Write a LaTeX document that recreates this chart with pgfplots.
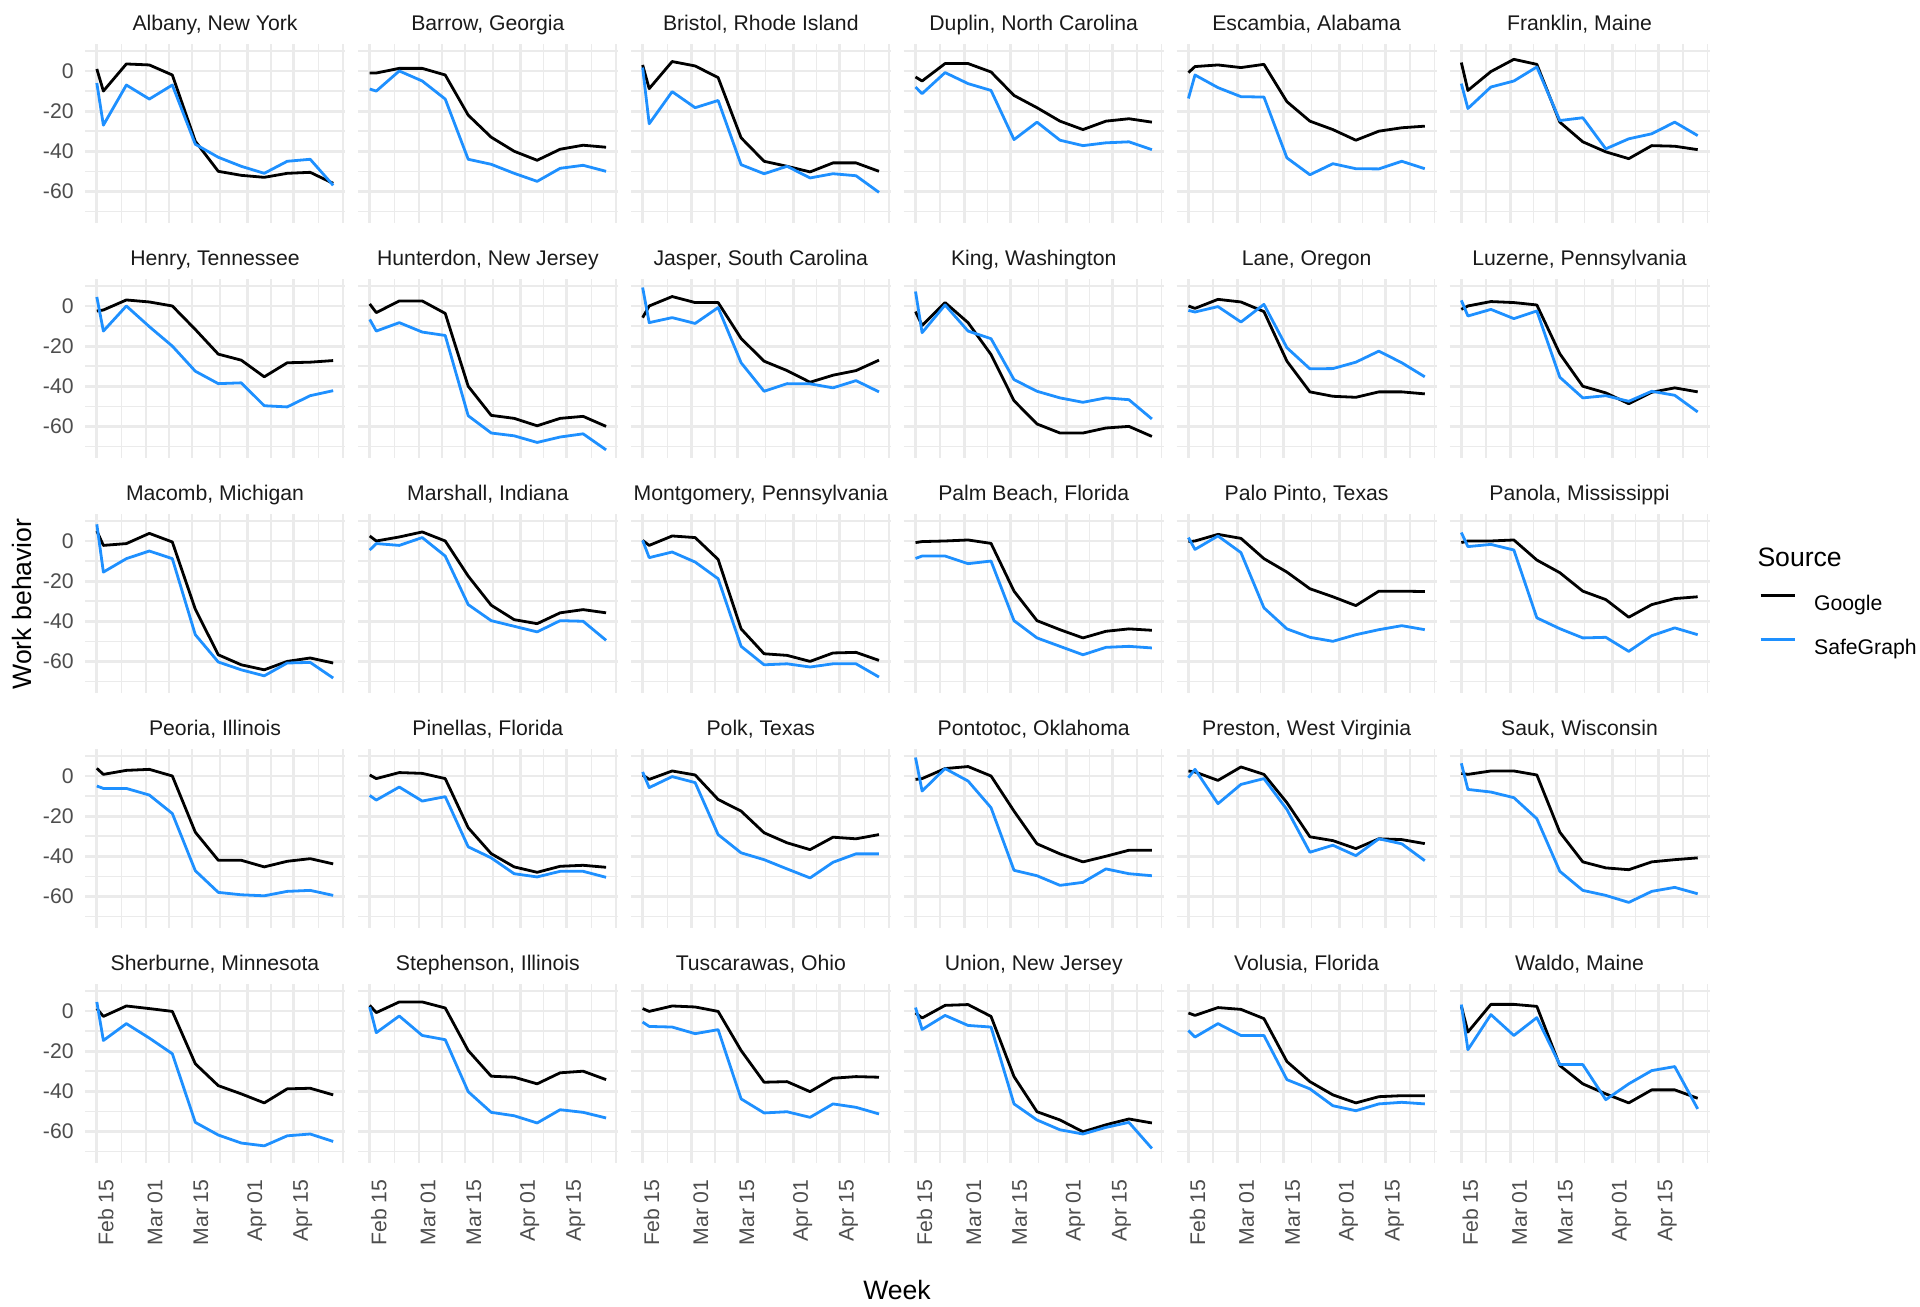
\documentclass[border=0pt]{standalone}
\usepackage{fontspec}
\setmainfont{Liberation Sans}
\usepackage{pgfplots}
\pgfplotsset{compat=1.18}

\definecolor{sgblue}{HTML}{1E90FF}
\definecolor{gridgrey}{HTML}{EBEBEB}
\definecolor{ticktext}{HTML}{4D4D4D}
\definecolor{striptext}{HTML}{1A1A1A}

\newcommand{\smallfont}{\fontsize{10.6}{12}\selectfont}
\newcommand{\bigfont}{\fontsize{13.3}{15}\selectfont}

% x = days after Feb 15 (2020)
\pgfplotsset{
  legend image code/.code={\draw[#1] (0pt,3.6pt) -- (17pt,3.6pt);},
  facet/.style={
    scale only axis, width=130pt, height=89.3pt,
    anchor=north west,
    xmin=-3.6, xmax=75.6, ymin=-75.75, ymax=13.25,
    axis line style={draw=none},
    major tick length=0pt, minor tick length=0pt,
    xtick={0,15,29,46,60},
    minor xtick={7.5,22,37.5,53,67.5,75},
    ytick={-60,-40,-20,0},
    minor ytick={-70,-50,-30,-10,10},
    grid=both,
    major grid style={draw=gridgrey, line width=1.4pt},
    minor grid style={draw=gridgrey, line width=0.7pt},
    xticklabels={}, yticklabels={},
    title style={anchor=center, yshift=3.8pt, font=\smallfont, text=striptext,
      text height=7.8pt, text depth=2.2pt},
    yticklabel style={font=\smallfont, text=ticktext, inner sep=0pt},
    yticklabel shift=5.5pt,
    xticklabel style={font=\smallfont, text=ticktext},
  },
  leftcol/.style={yticklabels={-60,-40,-20,0}},
  bottomrow/.style={
    xticklabels={Feb 15,Mar 01,Mar 15,Apr 01,Apr 15},
    xticklabel style={xshift=4.5pt, rotate=90, anchor=east, inner sep=0pt},
    xticklabel shift=8pt,
  },
  gline/.style={black, line width=1.4pt, line join=round, mark=none},
  sline/.style={sgblue, line width=1.4pt, line join=round, mark=none},
}

% #1 column, #2 row, #3 title, #4 Google, #5 SafeGraph, #6 extra options
\newcommand{\facet}[6]{%
  \pgfmathsetmacro{\fx}{42.5+136.45*#1}%
  \pgfmathsetmacro{\fy}{630.8-117.5*#2}%
  \begin{axis}[facet, at={(\fx pt,\fy pt)}, title={#3}, #6]
    \addplot[gline] coordinates {#4};
    \addplot[sline] coordinates {#5};
  \end{axis}}

\begin{document}
\begin{tikzpicture}
\useasboundingbox (0,0) rectangle (960pt,653pt);

% row 1
\facet{0}{0}{Albany, New York}
  {(0,1) (2,-10) (9,3.5) (16,3) (23,-2) (30,-35) (37,-50) (44,-52) (51,-53) (58,-51) (65,-50.5) (72,-56)}
  {(0,-6) (2,-27) (9,-7) (16,-14) (23,-7) (30,-36.5) (37,-43) (44,-47.5) (51,-51) (58,-45) (65,-44) (72,-57)}
  {leftcol}
\facet{1}{0}{Barrow, Georgia}
  {(0,-1) (2,-1) (9,1.3) (16,1.3) (23,-2) (30,-22) (37,-33) (44,-40) (51,-44.5) (58,-39) (65,-37) (72,-38)}
  {(0,-9) (2,-10) (9,0) (16,-5) (23,-14) (30,-44) (37,-46.5) (44,-51) (51,-55) (58,-48.5) (65,-47) (72,-50)}
  {}
\facet{2}{0}{Bristol, Rhode Island}
  {(0,3) (2,-8.8) (9,4.7) (16,2.5) (23,-3.3) (30,-33.3) (37,-45) (44,-47.5) (51,-50.3) (58,-45.8) (65,-45.8) (72,-50)}
  {(0,1.7) (2,-26.3) (9,-10.3) (16,-18.3) (23,-14.7) (30,-46.7) (37,-51.2) (44,-47.5) (51,-53.3) (58,-51.2) (65,-52.2) (72,-60.5)}
  {}
\facet{3}{0}{Duplin, North Carolina}
  {(0,-3) (2,-5) (9,3.7) (16,3.7) (23,-0.5) (30,-12.2) (37,-18.3) (44,-25) (51,-29.2) (58,-25) (65,-23.8) (72,-25.5)}
  {(0,-8) (2,-11.3) (9,-0.8) (16,-6.3) (23,-9.7) (30,-34.2) (37,-25.5) (44,-34.5) (51,-37.2) (58,-35.8) (65,-35.3) (72,-39.2)}
  {}
\facet{4}{0}{Escambia, Alabama}
  {(0,-0.8) (2,2.2) (9,3) (16,1.7) (23,3.3) (30,-15.3) (37,-25) (44,-29.2) (51,-34.5) (58,-30) (65,-28.3) (72,-27.5)}
  {(0,-13.7) (2,-2) (9,-8.3) (16,-12.8) (23,-13) (30,-43.3) (37,-51.7) (44,-46.2) (51,-48.7) (58,-48.8) (65,-45) (72,-48.7)}
  {}
\facet{5}{0}{Franklin, Maine}
  {(0,4.2) (2,-9.7) (9,-0.3) (16,5.8) (23,3.3) (30,-25.5) (37,-35.3) (44,-40.3) (51,-43.7) (58,-37.2) (65,-37.5) (72,-39.2)}
  {(0,-6.3) (2,-18.7) (9,-8) (16,-5) (23,2) (30,-24.7) (37,-23.3) (44,-38.8) (51,-33.8) (58,-31.3) (65,-25.5) (72,-32.2)}
  {}

% row 2
\facet{0}{1}{Henry, Tennessee}
  {(0,-2.5) (2,-2) (9,3) (16,2) (23,0) (30,-11.7) (37,-24) (44,-27) (51,-35.3) (58,-28.3) (65,-28) (72,-27.2)}
  {(0,4.5) (2,-12.5) (9,0) (16,-10.3) (23,-20) (30,-32.5) (37,-38.7) (44,-38.3) (51,-49.7) (58,-50.3) (65,-44.7) (72,-42.2)}
  {leftcol}
\facet{1}{1}{Hunterdon, New Jersey}
  {(0,1) (2,-3.3) (9,2.5) (16,2.5) (23,-3.7) (30,-40) (37,-54.5) (44,-56) (51,-59.7) (58,-56) (65,-55) (72,-60)}
  {(0,-6.7) (2,-12.5) (9,-8.3) (16,-13) (23,-14.7) (30,-54.7) (37,-63.3) (44,-64.7) (51,-68) (58,-65.3) (65,-63.7) (72,-71.7)}
  {}
\facet{2}{1}{Jasper, South Carolina}
  {(0,-5.8) (2,0) (9,4.7) (16,1.7) (23,1.7) (30,-16.2) (37,-27.5) (44,-32.2) (51,-38) (58,-34.5) (65,-32.2) (72,-27)}
  {(0,9.2) (2,-8.3) (9,-5.8) (16,-8.7) (23,-0.8) (30,-28.3) (37,-42.5) (44,-38.7) (51,-38.8) (58,-40.8) (65,-37.2) (72,-42.8)}
  {}
\facet{3}{1}{King, Washington}
  {(0,-2.8) (2,-9.7) (9,1.7) (16,-8.3) (23,-24.2) (30,-47.2) (37,-58.8) (44,-63.3) (51,-63.3) (58,-60.8) (65,-60) (72,-65)}
  {(0,7.2) (2,-13.3) (9,0.5) (16,-12.5) (23,-16.3) (30,-36.7) (37,-42.5) (44,-45.8) (51,-48) (58,-45.8) (65,-46.7) (72,-56.3)}
  {}
\facet{4}{1}{Lane, Oregon}
  {(0,0) (2,-1.2) (9,3.3) (16,2) (23,-2.8) (30,-27.5) (37,-42.8) (44,-45) (51,-45.5) (58,-42.8) (65,-42.8) (72,-43.8)}
  {(0,-2.2) (2,-3) (9,-0.3) (16,-8) (23,0.8) (30,-20.8) (37,-31.3) (44,-31.2) (51,-28) (58,-22.5) (65,-28.3) (72,-35.3)}
  {}
\facet{5}{1}{Luzerne, Pennsylvania}
  {(0,-1.7) (2,0) (9,2.2) (16,1.7) (23,0.5) (30,-23.8) (37,-40) (44,-43.3) (51,-48.7) (58,-43) (65,-40.8) (72,-42.8)}
  {(0,2.8) (2,-5) (9,-1.7) (16,-6.3) (23,-2.5) (30,-35.5) (37,-45.8) (44,-44.7) (51,-47.5) (58,-42.5) (65,-44.5) (72,-52.8)}
  {}

% row 3
\facet{0}{2}{Macomb, Michigan}
  {(0,5) (2,-2.2) (9,-1.3) (16,3.8) (23,-0.5) (30,-34) (37,-56.7) (44,-61.7) (51,-64.2) (58,-60) (65,-58.3) (72,-60.8)}
  {(0,8.3) (2,-15.5) (9,-8.8) (16,-5) (23,-8.8) (30,-46.7) (37,-60.3) (44,-64.2) (51,-67.2) (58,-60.8) (65,-60.5) (72,-68.3)}
  {leftcol}
\facet{1}{2}{Marshall, Indiana}
  {(0,2.5) (2,0) (9,2) (16,4.5) (23,0) (30,-17.5) (37,-32) (44,-39.2) (51,-41.2) (58,-35.8) (65,-34.2) (72,-35.8)}
  {(0,-4.5) (2,-1.3) (9,-2.2) (16,1.7) (23,-7.5) (30,-31.7) (37,-39.7) (44,-42.5) (51,-45.3) (58,-39.7) (65,-40) (72,-49.5)}
  {}
\facet{2}{2}{Montgomery, Pennsylvania}
  {(0,0.3) (2,-2.2) (9,2.5) (16,1.7) (23,-9.2) (30,-43.8) (37,-56.2) (44,-57) (51,-60) (58,-55.8) (65,-55.5) (72,-59.5)}
  {(0,0.3) (2,-8.3) (9,-5.5) (16,-10.5) (23,-18.8) (30,-52.5) (37,-61.7) (44,-61.2) (51,-62.8) (58,-61.2) (65,-61.2) (72,-67.8)}
  {}
\facet{3}{2}{Palm Beach, Florida}
  {(0,-0.8) (2,-0.3) (9,0) (16,0.5) (23,-1.2) (30,-25) (37,-39.7) (44,-44.2) (51,-48.3) (58,-45) (65,-43.8) (72,-44.5)}
  {(0,-8.7) (2,-7.5) (9,-7.5) (16,-11.3) (23,-10) (30,-39.7) (37,-48.3) (44,-52.5) (51,-56.7) (58,-53) (65,-52.5) (72,-53.3)}
  {}
\facet{4}{2}{Palo Pinto, Texas}
  {(0,-0.3) (2,0) (9,3.3) (16,1.3) (23,-8.8) (30,-15.5) (37,-23.8) (44,-27.8) (51,-32.2) (58,-25) (65,-25) (72,-25.2)}
  {(0,1.7) (2,-4.2) (9,2.5) (16,-5.8) (23,-33.3) (30,-43.8) (37,-48) (44,-50) (51,-46.7) (58,-44.2) (65,-42.2) (72,-44.2)}
  {}
\facet{5}{2}{Panola, Mississippi}
  {(0,-0.8) (2,0) (9,0) (16,0.5) (23,-9.5) (30,-15.8) (37,-25) (44,-29.2) (51,-38) (58,-31.7) (65,-28.7) (72,-27.8)}
  {(0,4.2) (2,-2.8) (9,-1.7) (16,-4.5) (23,-38.3) (30,-43.7) (37,-48.3) (44,-48) (51,-55) (58,-47.2) (65,-43.3) (72,-46.7)}
  {legend entries={Google,SafeGraph},
   legend cell align=left,
   legend style={draw=none, fill=none, at={(1.19,0.3835)}, anchor=west,
     inner sep=0pt, font=\smallfont, row sep=13.9pt,
     nodes={inner sep=0pt, text height=7.6pt, text depth=0pt},
     /tikz/every odd column/.append style={column sep=9pt}},
   extra description/.code={\node[anchor=west, font=\bigfont, inner sep=0pt] at (1.183,0.761) {Source};}}

% row 4
\facet{0}{3}{Peoria, Illinois}
  {(0,3.8) (2,0.8) (9,2.8) (16,3.3) (23,0) (30,-28) (37,-42) (44,-42) (51,-45.3) (58,-42.5) (65,-41.2) (72,-43.8)}
  {(0,-5) (2,-6.2) (9,-6.2) (16,-9.5) (23,-18.7) (30,-47.2) (37,-58) (44,-59.2) (51,-59.7) (58,-57.5) (65,-57) (72,-59.5)}
  {leftcol}
\facet{1}{3}{Pinellas, Florida}
  {(0,0.5) (2,-1.3) (9,1.7) (16,1.3) (23,-1.3) (30,-25.8) (37,-38.7) (44,-45.3) (51,-48) (58,-45) (65,-44.5) (72,-45.5)}
  {(0,-9.7) (2,-12) (9,-5.5) (16,-12.5) (23,-10.3) (30,-35.3) (37,-40.8) (44,-48.7) (51,-50.3) (58,-47.5) (65,-47.5) (72,-50.5)}
  {}
\facet{2}{3}{Polk, Texas}
  {(0,0.5) (2,-1.7) (9,2.5) (16,0.5) (23,-11.7) (30,-17.5) (37,-28.3) (44,-33.3) (51,-36.7) (58,-30.5) (65,-31.3) (72,-29.2)}
  {(0,2) (2,-5.8) (9,-0.3) (16,-3.3) (23,-29.2) (30,-38.3) (37,-41.7) (44,-46.3) (51,-50.8) (58,-43) (65,-38.8) (72,-38.8)}
  {}
\facet{3}{3}{Pontotoc, Oklahoma}
  {(0,-1.7) (2,-1.3) (9,3.7) (16,4.7) (23,0) (30,-17.5) (37,-33.8) (44,-38.8) (51,-42.8) (58,-40) (65,-37) (72,-37)}
  {(0,9.2) (2,-7.5) (9,3.7) (16,-2.5) (23,-15.8) (30,-47) (37,-49.7) (44,-54.5) (51,-53) (58,-46.3) (65,-48.7) (72,-49.7)}
  {}
\facet{4}{3}{Preston, West Virginia}
  {(0,2.5) (2,2) (9,-2.2) (16,4.5) (23,0.8) (30,-13.3) (37,-30.3) (44,-32.2) (51,-36.2) (58,-31.3) (65,-31.7) (72,-33.7)}
  {(0,-0.8) (2,3.3) (9,-13.8) (16,-4.2) (23,-1.3) (30,-16.7) (37,-38) (44,-34.5) (51,-39.7) (58,-31.3) (65,-33.8) (72,-42.2)}
  {}
\facet{5}{3}{Sauk, Wisconsin}
  {(0,1.3) (2,0.8) (9,2.5) (16,2.5) (23,0.5) (30,-28) (37,-42.8) (44,-45.8) (51,-46.7) (58,-42.8) (65,-41.7) (72,-40.8)}
  {(0,6.3) (2,-6.7) (9,-8) (16,-10.8) (23,-21.3) (30,-47.5) (37,-57) (44,-59.5) (51,-63) (58,-57.5) (65,-55.5) (72,-58.7)}
  {}

% row 5
\facet{0}{4}{Sherburne, Minnesota}
  {(0,1.2) (2,-2.7) (9,2.5) (16,1.2) (23,-0.2) (30,-26.3) (37,-37.2) (44,-41.3) (51,-45.8) (58,-38.8) (65,-38.5) (72,-41.8)}
  {(0,4.5) (2,-14.7) (9,-6.3) (16,-13.5) (23,-21.3) (30,-55.5) (37,-61.8) (44,-65.8) (51,-67.2) (58,-62.2) (65,-61.3) (72,-65)}
  {leftcol, bottomrow}
\facet{1}{4}{Stephenson, Illinois}
  {(0,2.8) (2,-0.8) (9,4.5) (16,4.5) (23,1.5) (30,-19.7) (37,-32.5) (44,-33) (51,-36.3) (58,-30.8) (65,-30) (72,-34.2)}
  {(0,2) (2,-10.8) (9,-2.5) (16,-12.2) (23,-14.3) (30,-40.2) (37,-50.5) (44,-52.2) (51,-55.8) (58,-49.2) (65,-50.5) (72,-53.3)}
  {bottomrow}
\facet{2}{4}{Tuscarawas, Ohio}
  {(0,1.2) (2,-0.2) (9,2.5) (16,2) (23,-0.2) (30,-19.7) (37,-35.5) (44,-35.2) (51,-40.2) (58,-33.5) (65,-32.7) (72,-33)}
  {(0,-5.5) (2,-7.7) (9,-8) (16,-11.3) (23,-9.3) (30,-43.8) (37,-50.8) (44,-50.2) (51,-53) (58,-46.3) (65,-48) (72,-51.3)}
  {bottomrow}
\facet{3}{4}{Union, New Jersey}
  {(0,-1) (2,-3.5) (9,2.8) (16,3.2) (23,-2.7) (30,-32.7) (37,-50.2) (44,-54.3) (51,-60.2) (58,-56.7) (65,-53.8) (72,-55.8)}
  {(0,1.7) (2,-9.2) (9,-2.2) (16,-7.2) (23,-8) (30,-46.3) (37,-54.3) (44,-59.2) (51,-61.3) (58,-58) (65,-55.5) (72,-68.5)}
  {bottomrow}
\facet{4}{4}{Volusia, Florida}
  {(0,-1) (2,-2.2) (9,1.7) (16,0.8) (23,-3.8) (30,-25.2) (37,-35.2) (44,-41.8) (51,-45.8) (58,-42.7) (65,-42.2) (72,-42.2)}
  {(0,-9.7) (2,-13) (9,-6.3) (16,-12.2) (23,-12.2) (30,-34.2) (37,-38.8) (44,-47.2) (51,-49.7) (58,-46.3) (65,-45.5) (72,-46.3)}
  {bottomrow}
\facet{5}{4}{Waldo, Maine}
  {(0,2.5) (2,-10.5) (9,3.3) (16,3.3) (23,2.3) (30,-27.2) (37,-36.3) (44,-41.3) (51,-45.8) (58,-39.3) (65,-39.3) (72,-43.5)}
  {(0,3.2) (2,-19.3) (9,-1.8) (16,-12.2) (23,-3.3) (30,-26.7) (37,-26.7) (44,-44.2) (51,-36.3) (58,-29.7) (65,-27.7) (72,-48.8)}
  {bottomrow}

\node[rotate=90, font=\bigfont] at (11pt,351pt) {Work behavior};
\node[font=\bigfont] at (448.5pt,8.25pt) {Week};
\end{tikzpicture}
\end{document}
